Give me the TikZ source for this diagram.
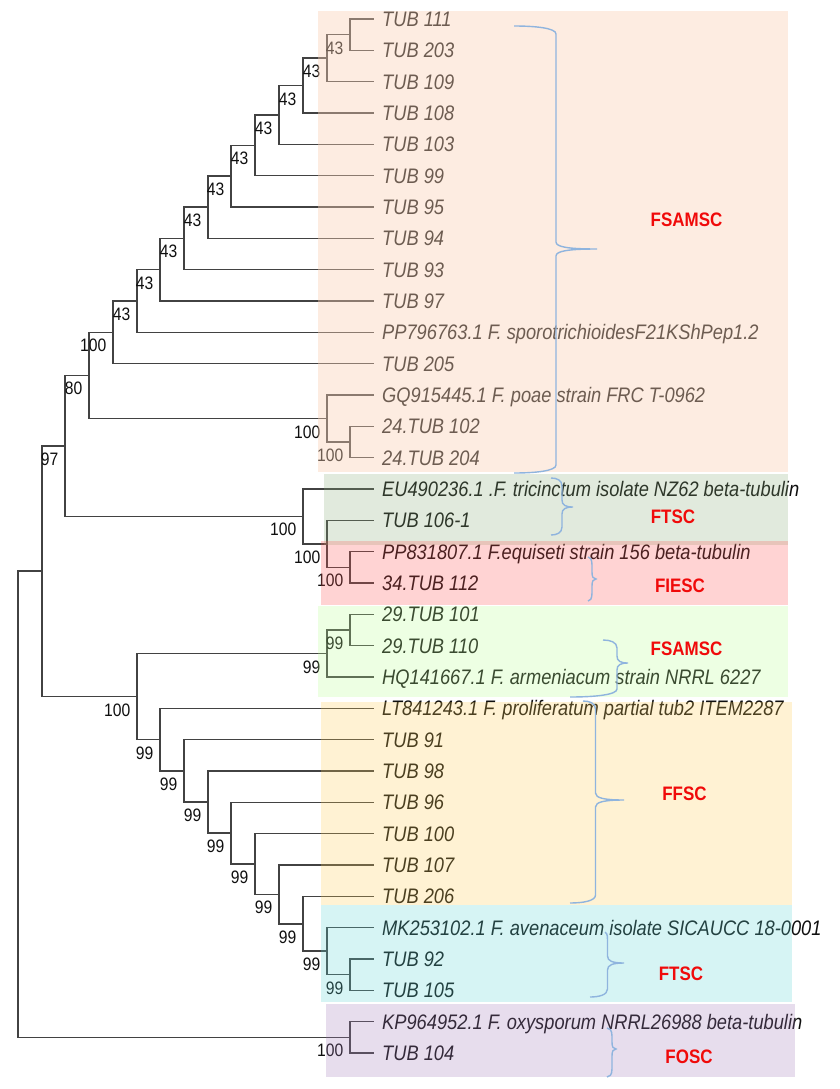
\documentclass[tikz,border=0pt]{standalone}
\usepackage{fontspec}
\newfontfamily\lab[FakeStretch=0.87]{Liberation Sans}
\definecolor{lin}{RGB}{66,66,66}
\definecolor{txt}{RGB}{15,15,15}
\definecolor{bpeach}{RGB}{250,208,180}
\definecolor{bgreen}{RGB}{139,175,123}
\definecolor{bred}{RGB}{255,83,83}
\definecolor{blgreen}{RGB}{187,255,147}
\definecolor{byellow}{RGB}{255,207,83}
\definecolor{bcyan}{RGB}{95,215,215}
\definecolor{bpurple}{RGB}{163,123,187}
\definecolor{brc}{RGB}{143,180,222}
\definecolor{cl}{RGB}{240,10,10}
\newcommand\clbrace[7]{%
  \draw[brc, line width=1.4pt]
  (#1,#2) .. controls ({(#1+#3)/2},#2) and (#3,{#2+2}) .. (#3,{#2+8})
  -- (#3,{#5-7}) .. controls (#3,{#5-2}) and ({#3+0.3*(#4-#3)},#5) .. (#4,#5)
  .. controls ({#3+0.3*(#4-#3)},#5) and (#3,{#5+2}) .. (#3,{#5+7})
  -- (#3,{#7-8}) .. controls (#3,{#7-2}) and ({(#6+#3)/2},#7) .. (#6,#7);}
\begin{document}
\begin{tikzpicture}[x=1pt,y=-1pt,
  br/.style={lin, line width=1.5pt, line cap=rect},
  leaf/.style={anchor=base west, inner sep=0, text=txt, font=\lab\itshape\fontsize{21}{21}\selectfont},
  bs/.style={anchor=base east, inner sep=0, text=txt, font=\lab\fontsize{18}{18}\selectfont},
  clade/.style={anchor=center, inner sep=0, text=cl, font=\lab\bfseries\fontsize{19.5}{19.5}\selectfont}]
\useasboundingbox (0,0) rectangle (839,1089);
\fill[white] (0,0) rectangle (839,1089);
% leaves
\foreach \i/\t in {1/TUB 111, 2/TUB 203, 3/TUB 109, 4/TUB 108, 5/TUB 103, 6/TUB 99, 7/TUB 95, 8/TUB 94, 9/TUB 93, 10/TUB 97,
  11/PP796763.1 F. sporotrichioidesF21KShPep1.2, 12/TUB 205, 13/GQ915445.1 F. poae strain FRC T-0962,
  14/24.TUB 102, 15/24.TUB 204, 16/EU490236.1 .F. tricinctum isolate NZ62 beta-tubulin, 17/TUB 106-1,
  18/PP831807.1 F.equiseti strain 156 beta-tubulin, 19/34.TUB 112, 20/29.TUB 101, 21/29.TUB 110,
  22/HQ141667.1 F. armeniacum strain NRRL 6227, 23/LT841243.1 F. proliferatum partial tub2 ITEM2287,
  24/TUB 91, 25/TUB 98, 26/TUB 96, 27/TUB 100, 28/TUB 107, 29/TUB 206,
  30/MK253102.1 F. avenaceum isolate SICAUCC 18-0001, 31/TUB 92, 32/TUB 105,
  33/KP964952.1 F. oxysporum NRRL26988 beta-tubulin, 34/TUB 104}{
  \pgfmathsetmacro\yy{19+31.3333*(\i-1)}
  \coordinate (L\i) at (373,\yy);
  \node[leaf] (t\i) at (382,{\yy+7.5}) {\t};
}
% internal nodes
\coordinate (a1) at (350,34.67);
\coordinate (a2) at (327,58.17);
\coordinate (a3) at (303,85.58);
\coordinate (a4) at (279,114.96);
\coordinate (a5) at (255,145.31);
\coordinate (a6) at (231,176.16);
\coordinate (a7) at (208,207.24);
\coordinate (a8) at (184,238.46);
\coordinate (a9) at (160,269.73);
\coordinate (a10) at (137,301.03);
\coordinate (a11) at (113,332.35);
\coordinate (g1) at (350,442);
\coordinate (g2) at (327,418.5);
\coordinate (b1) at (89,375.4);
\coordinate (e1) at (350,567.33);
\coordinate (e2) at (327,543.83);
\coordinate (e3) at (303,516.4);
\coordinate (b2) at (65,445.9);
\coordinate (h1) at (350,630);
\coordinate (h2) at (327,653.5);
\coordinate (f9) at (350,974.67);
\coordinate (f8) at (327,951.17);
\coordinate (f7) at (303,923.75);
\coordinate (f6) at (279,894.4);
\coordinate (f5) at (255,864);
\coordinate (f4) at (231,833.2);
\coordinate (f3) at (208,802.1);
\coordinate (f2) at (184,770.9);
\coordinate (f1) at (160,739.6);
\coordinate (c1) at (137,696.55);
\coordinate (b3) at (42,571.2);
\coordinate (o1) at (350,1037.33);
\coordinate (root) at (18,804.3);
% branches
\foreach \p/\c in {a1/L1, a1/L2, a2/a1, a2/L3, a3/a2, a3/L4, a4/a3, a4/L5, a5/a4, a5/L6,
  a6/a5, a6/L7, a7/a6, a7/L8, a8/a7, a8/L9, a9/a8, a9/L10, a10/a9, a10/L11, a11/a10, a11/L12,
  g1/L14, g1/L15, g2/L13, g2/g1, b1/a11, b1/g2,
  e1/L18, e1/L19, e2/L17, e2/e1, e3/L16, e3/e2, b2/b1, b2/e3,
  h1/L20, h1/L21, h2/h1, h2/L22,
  f9/L31, f9/L32, f8/L30, f8/f9, f7/L29, f7/f8, f6/L28, f6/f7, f5/L27, f5/f6,
  f4/L26, f4/f5, f3/L25, f3/f4, f2/L24, f2/f3, f1/L23, f1/f2, c1/h2, c1/f1,
  b3/b2, b3/c1, o1/L33, o1/L34, root/b3, root/o1}{
  \draw[br] (\p) |- (\c);
}
% bootstrap values
\foreach \n/\v in {a1/43, a2/43, a3/43, a4/43, a5/43, a6/43, a7/43, a8/43, a9/43, a10/43, a11/100,
  g1/100, g2/100, b1/80, e1/100, e2/100, e3/100, b2/97, h1/99, h2/99, c1/100,
  f1/99, f2/99, f3/99, f4/99, f5/99, f6/99, f7/99, f8/99, f9/99, o1/100}{
  \node[bs] (bs-\n) at ([shift={(-6.5,19.5)}]\n) {\v};
}
% clade boxes (overlay)
\fill[bpeach, fill opacity=0.4] (318,11) rectangle (788,472);
\fill[bgreen, fill opacity=0.25] (324,474) rectangle (788,545);
\fill[bred, fill opacity=0.25] (321,541) rectangle (788,605);
\fill[blgreen, fill opacity=0.25] (318,606) rectangle (788,697);
\fill[byellow, fill opacity=0.25] (321,702) rectangle (792,905);
\fill[bcyan, fill opacity=0.25] (321,905) rectangle (792,1002);
\fill[bpurple, fill opacity=0.25] (326,1004) rectangle (795,1077);
% braces
\clbrace{514}{26}{556}{597}{249}{514}{473}
\clbrace{551}{478}{562}{573}{507}{551}{535}
\clbrace{588}{557}{592}{596}{579}{588}{601}
\clbrace{603}{640}{617}{628}{663}{570}{697}
\clbrace{583}{701}{595.5}{624}{800}{570}{903}
\clbrace{605}{932}{607.5}{624}{963}{590}{997}
\clbrace{607}{1028}{612}{616}{1049}{607}{1077}
% clade labels
\node[clade] (k1) at (686.5,220) {FSAMSC};
\node[clade] (k2) at (673,517) {FTSC};
\node[clade] (k3) at (680,586) {FIESC};
\node[clade] (k4) at (686.5,649) {FSAMSC};
\node[clade] (k5) at (684.5,794) {FFSC};
\node[clade] (k6) at (681,974) {FTSC};
\node[clade] (k7) at (689,1057) {FOSC};
\end{tikzpicture}
\end{document}
